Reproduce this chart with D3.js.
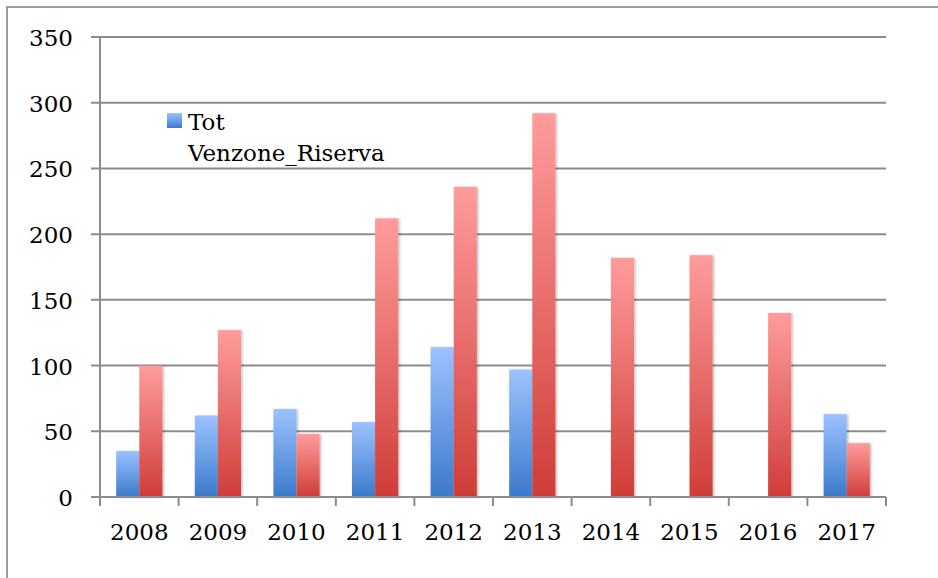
<!DOCTYPE html>
<html>
<head>
<meta charset="utf-8">
<script src="https://cdn.jsdelivr.net/npm/d3@7"></script>
<style>
  body { margin: 0; background: #fff; }
  text { font-family: "DejaVu Serif", "Liberation Serif", serif; fill: #000; }
</style>
</head>
<body>
<script>
// chart data
const years = ['2008', '2009', '2010', '2011', '2012', '2013', '2014', '2015', '2016', '2017'];
const series = ['Tot Venzone_Riserva', 'Altro'];
const totValues = [35, 62, 67, 57, 114, 97, 0, 0, 0, 63];
const otherValues = [100, 127, 48, 212, 236, 292, 182, 184, 140, 41];
const yTicks = [0, 50, 100, 150, 200, 250, 300, 350];

const width = 938;
const height = 578;

const svg = d3.select('body')
  .append('svg')
  .attr('width', width)
  .attr('height', height);

const defs = svg.append('defs');

// gradients for the bars
const grads = [
  { id: 'gBlue', top: '#9cc2ff', bottom: '#3b7acb' },
  { id: 'gRed', top: '#ff9c9c', bottom: '#cf3d38' }
];
grads.forEach((g) => {
  const lg = defs.append('linearGradient')
    .attr('id', g.id)
    .attr('x1', 0).attr('y1', 0)
    .attr('x2', 0).attr('y2', 1);
  lg.append('stop').attr('offset', '0%').attr('stop-color', g.top);
  lg.append('stop').attr('offset', '100%').attr('stop-color', g.bottom);
});

const shadow = defs.append('filter')
  .attr('id', 'shadow')
  .attr('x', '-20%').attr('y', '-5%')
  .attr('width', '150%').attr('height', '115%');
shadow.append('feDropShadow')
  .attr('dx', 1.5).attr('dy', 0.5)
  .attr('stdDeviation', 1.2)
  .attr('flood-color', '#000')
  .attr('flood-opacity', 0.25);

// outer frame (only top and left edges fall inside the picture)
svg.append('rect')
  .attr('x', 7).attr('y', 7)
  .attr('width', 960).attr('height', 600)
  .attr('fill', 'none')
  .attr('stroke', '#9a9a9a')
  .attr('stroke-width', 2);

const plotLeft = 100, plotRight = 886, plotTop = 37, plotBottom = 497;

const x = d3.scaleBand().domain(years).range([plotLeft, plotRight]);
const x1 = d3.scaleBand().domain(series).range([0, x.bandwidth()])
  .paddingInner(0).paddingOuter(0.7);
const y = d3.scaleLinear().domain([0, 350]).range([plotBottom, plotTop]);

// gridlines + y ticks
svg.append('g')
  .selectAll('line')
  .data(yTicks)
  .enter()
  .append('line')
  .attr('x1', plotLeft - 9)
  .attr('x2', plotRight)
  .attr('y1', (d) => y(d))
  .attr('y2', (d) => y(d))
  .style('stroke', '#8c8c8c')
  .style('stroke-width', '2px');

svg.append('g')
  .selectAll('text')
  .data(yTicks)
  .enter()
  .append('text')
  .attr('x', 73)
  .attr('y', (d) => y(d) + 9)
  .attr('text-anchor', 'end')
  .style('font-size', '23px')
  .text((d) => d);

// y axis line
svg.append('line')
  .attr('x1', plotLeft).attr('x2', plotLeft)
  .attr('y1', plotTop).attr('y2', plotBottom + 9)
  .style('stroke', '#8c8c8c')
  .style('stroke-width', '2px');

// x tick marks at band edges
const edges = years.map((d) => x(d)).concat([plotRight]);
svg.append('g')
  .selectAll('line')
  .data(edges)
  .enter()
  .append('line')
  .attr('x1', (d) => d)
  .attr('x2', (d) => d)
  .attr('y1', plotBottom)
  .attr('y2', plotBottom + 9)
  .style('stroke', '#8c8c8c')
  .style('stroke-width', '2px');

// bars
const rows = years.map((yr, i) => ({ year: yr, values: [totValues[i], otherValues[i]] }));
const fills = ['url(#gBlue)', 'url(#gRed)'];

const group = svg.append('g')
  .selectAll('g')
  .data(rows)
  .enter()
  .append('g')
  .attr('transform', (d) => `translate(${x(d.year)},0)`);

group.selectAll('rect')
  .data((d) => d.values.map((v, j) => ({ key: series[j], value: v, j: j })).filter((e) => e.value > 0))
  .enter()
  .append('rect')
  .attr('x', (d) => x1(d.key))
  .attr('width', x1.bandwidth())
  .attr('y', (d) => y(d.value))
  .attr('height', (d) => y(0) - y(d.value))
  .attr('fill', (d) => fills[d.j])
  .attr('filter', 'url(#shadow)');

// x axis line (drawn over bars)
svg.append('line')
  .attr('x1', plotLeft - 9).attr('x2', plotRight)
  .attr('y1', plotBottom).attr('y2', plotBottom)
  .style('stroke', '#8c8c8c')
  .style('stroke-width', '2px');

// x labels
svg.append('g')
  .selectAll('text')
  .data(years)
  .enter()
  .append('text')
  .attr('x', (d) => x(d) + x.bandwidth() / 2)
  .attr('y', 540)
  .attr('text-anchor', 'middle')
  .style('font-size', '23px')
  .text((d) => d);

// legend (only first entry is visible)
const legend = svg.append('g');
legend.append('rect')
  .attr('x', 167).attr('y', 113)
  .attr('width', 15).attr('height', 15)
  .attr('fill', 'url(#gBlue)');
legend.append('text')
  .attr('x', 188).attr('y', 130)
  .style('font-size', '23px')
  .text('Tot');
legend.append('text')
  .attr('x', 188).attr('y', 161)
  .style('font-size', '23px')
  .text('Venzone_Riserva');
</script>
</body>
</html>
